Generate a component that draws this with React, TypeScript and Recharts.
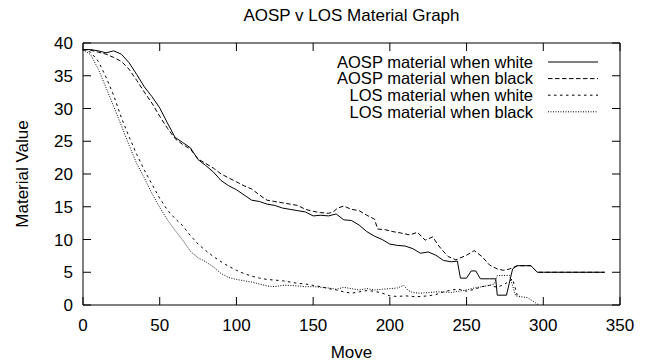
import React from 'react';
import { LineChart, Line, XAxis, YAxis, Legend, Label } from 'recharts';

const FONT = '"Liberation Sans", Arial, Helvetica, sans-serif';

const xTicks = [0, 50, 100, 150, 200, 250, 300, 350];
const yTicks = [0, 5, 10, 15, 20, 25, 30, 35, 40];

const aospWhiteMoves = [
  0, 5, 10, 15, 20, 25, 30, 35, 40, 45, 50, 55, 60, 65, 70, 75, 80, 85, 90, 95, 100, 105, 110, 115, 120, 125, 130, 135, 140,
  145, 150, 155, 160, 165, 170, 175, 180, 185, 190, 195, 200, 205, 210, 215, 220, 225, 230, 235, 240, 244, 246, 250, 253, 256,
  259, 265, 269, 270, 276, 280, 283, 292, 296, 300, 320, 340,
];
const aospWhiteValues = [
  39, 39, 38.8, 38.5, 38.8, 38.3, 37, 35.2, 33.3, 31.8, 30.1, 27.8, 25.6, 24.8, 24, 22.2, 21.3, 20.3, 19, 18.2, 17.6, 16.8, 16,
  15.8, 15.4, 15.2, 14.8, 14.6, 14.4, 14.2, 13.6, 13.7, 13.6, 13.9, 13, 12.9, 12.2, 11.2, 10.5, 10, 9.3, 9.1, 9, 8.6, 7.9, 8.1,
  7.6, 6.8, 6.6, 6.7, 4.1, 4.1, 5.2, 5.2, 4, 4, 4, 1.5, 1.5, 5.5, 6, 6, 5, 5, 5, 5,
];

const aospBlackMoves = [
  0, 5, 10, 15, 20, 25, 30, 35, 40, 45, 50, 55, 60, 65, 70, 75, 80, 85, 90, 95, 100, 105, 110, 115, 120, 125, 130, 135, 140,
  145, 150, 155, 160, 163, 166, 170, 175, 180, 185, 190, 192, 197, 202, 207, 213, 218, 223, 228, 231, 234, 238, 243, 250, 255,
  260, 265, 270, 274, 278, 283, 292, 296, 320, 340,
];
const aospBlackValues = [
  39, 38.9, 38.6, 38.3, 37.8, 37.2, 36, 34.3, 32.5, 30.8, 28.8, 27, 25.4, 24.5, 23.8, 22.3, 21.6, 20.9, 20, 19.4, 18.8, 18.2,
  17.7, 16.8, 16, 15.8, 15.6, 15.4, 15.2, 14.6, 14.3, 14.1, 14, 14.2, 14.8, 15.1, 14.6, 14.4, 13.7, 13.1, 11.6, 11.5, 11.2, 11,
  10.7, 11.1, 9.9, 10.4, 9.3, 8.4, 7.4, 6.9, 7.6, 8.3, 7.4, 6.1, 5.5, 5.3, 5.5, 6, 6, 5, 5, 5,
];

const losWhiteMoves = [
  0, 5, 10, 15, 20, 25, 30, 35, 40, 45, 50, 55, 60, 65, 70, 75, 80, 85, 90, 95, 100, 105, 110, 115, 120, 125, 130, 135, 140,
  145, 150, 155, 160, 165, 170, 175, 180, 185, 190, 195, 200, 205, 210, 215, 220, 225, 230, 235, 240, 245, 250, 255, 260, 265,
  270, 275, 280, 283,
];
const losWhiteValues = [
  39, 38.6, 37.2, 34.8, 32, 28.6, 25.7, 23, 20.6, 18.4, 16.3, 14.5, 13.2, 12.1, 10.6, 9.3, 8.3, 7.4, 6.6, 5.9, 5.3, 4.8, 4.4,
  4.1, 3.9, 3.8, 3.7, 3.5, 3.3, 3.2, 3, 2.8, 2.5, 2.3, 2, 1.8, 2, 2.2, 2.1, 1.8, 1.4, 1.3, 1.4, 1.3, 1.3, 1.4, 1.6, 2, 2.3,
  2.4, 2.1, 2.4, 2.8, 3, 2.7, 3.2, 4, 1.5,
];

const losBlackMoves = [
  0, 5, 10, 15, 20, 25, 30, 35, 40, 45, 50, 55, 60, 65, 70, 75, 80, 85, 90, 95, 100, 105, 110, 115, 120, 125, 130, 135, 140,
  145, 150, 155, 160, 165, 170, 175, 180, 185, 190, 195, 200, 205, 209, 212, 215, 220, 225, 230, 235, 240, 245, 250, 255, 260,
  265, 268, 270, 278, 282, 290, 297,
];
const losBlackValues = [
  39, 38.2, 36, 33.2, 30.3, 27.4, 24.4, 21.6, 19.4, 17, 14.9, 13, 11.4, 9.9, 8.2, 7.2, 6.6, 5.8, 4.8, 4.2, 3.9, 3.7, 3.5, 3.2,
  2.9, 2.8, 3, 3, 2.9, 2.8, 2.8, 2.7, 2.6, 2.4, 2.7, 2.5, 2.3, 2.5, 2.3, 2.4, 2.5, 2.6, 3, 2.2, 1.9, 1.8, 1.9, 2, 2, 1.9, 2.1,
  2.3, 2.6, 2.8, 3, 3.2, 4.5, 4.5, 1.4, 1.1, 0,
];

const toPoints = (moves: number[], values: number[]) => moves.map((move, i) => ({ move, value: values[i] }));

const series = [
  { name: 'AOSP material when white', data: toPoints(aospWhiteMoves, aospWhiteValues), dash: undefined },
  { name: 'AOSP material when black', data: toPoints(aospBlackMoves, aospBlackValues), dash: '4.5 2.5' },
  { name: 'LOS material when white', data: toPoints(losWhiteMoves, losWhiteValues), dash: '2.5 3.5' },
  { name: 'LOS material when black', data: toPoints(losBlackMoves, losBlackValues), dash: '1 1.5' },
];

const tickStyle = { fontSize: 17, fontFamily: FONT, fill: '#000' };
const blank = () => '';

// gnuplot-style key: right-aligned text with the line sample after it
const MaterialLegend = () => (
  <svg width={310} height={72}>
    {series.map((s, i) => {
      const y = 12 + i * 16.6;
      return (
        <g key={s.name}>
          <text x={233} y={y} dy="0.35em" textAnchor="end" fontSize={16.5} fontFamily={FONT} fill="#000">
            {s.name}
          </text>
          <line x1={248} x2={298} y1={y} y2={y} stroke="#000" strokeWidth={1} strokeDasharray={s.dash} />
        </g>
      );
    })}
  </svg>
);

export default function App() {
  return (
    <div style={{ position: 'absolute', left: 0, top: 0, width: 650, height: 364, background: '#fff' }}>
      <LineChart width={650} height={364} margin={{ top: 0, right: 0, bottom: 0, left: 0 }}>
        <XAxis
          dataKey="move"
          type="number"
          domain={[0, 350]}
          ticks={xTicks}
          interval={0}
          height={59}
          stroke="#000"
          tickSize={-8}
          tickMargin={22}
          tick={tickStyle}
        >
          <Label value="Move" position="insideBottom" offset={6} style={{ fontSize: 17, fontFamily: FONT, fill: '#000' }} />
        </XAxis>
        <XAxis
          xAxisId="top"
          orientation="top"
          dataKey="move"
          type="number"
          domain={[0, 350]}
          allowDataOverflow
          ticks={xTicks}
          interval={0}
          height={43}
          stroke="#000"
          tickSize={-8}
          tickFormatter={blank}
        >
          <Label
            value="AOSP v LOS Material Graph"
            position="insideTop"
            offset={9}
            style={{ fontSize: 17, fontFamily: FONT, fill: '#000' }}
          />
        </XAxis>
        <YAxis
          type="number"
          domain={[0, 40]}
          ticks={yTicks}
          interval={0}
          width={83}
          stroke="#000"
          tickSize={-8}
          tickMargin={18}
          tick={tickStyle}
        >
          <Label
            value="Material Value"
            angle={-90}
            position="insideLeft"
            offset={22}
            style={{ fontSize: 17, fontFamily: FONT, fill: '#000', textAnchor: 'middle' }}
          />
        </YAxis>
        <YAxis
          yAxisId="right"
          orientation="right"
          type="number"
          domain={[0, 40]}
          allowDataOverflow
          ticks={yTicks}
          interval={0}
          width={30}
          stroke="#000"
          tickSize={-8}
          tickFormatter={blank}
        />
        {series.map((s) => (
          <Line
            key={s.name}
            data={s.data}
            dataKey="value"
            name={s.name}
            type="linear"
            stroke="#000"
            strokeWidth={1}
            strokeDasharray={s.dash}
            dot={false}
            activeDot={false}
            isAnimationActive={false}
          />
        ))}
        <Legend
          layout="horizontal"
          verticalAlign="middle"
          align="center"
          content={<MaterialLegend />}
          wrapperStyle={{ position: 'absolute', left: 300, top: 50, width: 310, height: 72 }}
        />
      </LineChart>
    </div>
  );
}
